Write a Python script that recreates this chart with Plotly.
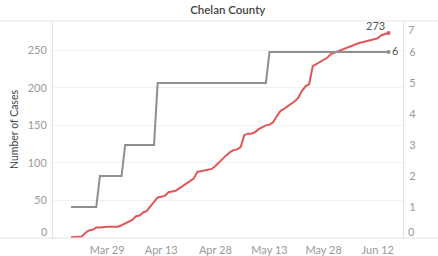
import plotly.graph_objects as go
import pandas as pd

title_text = "Chelan County"
start_date = "2020-03-19"
end_date = "2020-06-15"

cases = [
    1, 1, 2, 2, 7, 10, 11, 14, 14, 15, 15, 15, 15,          # Mar 19-31
    15, 17, 19, 21, 24, 29, 30, 34, 36, 42, 48, 54, 55, 56, 61,  # Apr 1-15
    62, 63, 66, 69, 72, 75, 79, 88, 89, 89, 90, 92, 96, 101, 106,  # Apr 16-30
    110, 114, 117, 118, 121, 137, 139, 139, 141, 145, 148, 150, 151, 154, 162,  # May 1-15
    169, 172, 175, 178, 182, 187, 196, 202, 205, 229, 232, 234, 237, 240, 245, 247,  # May 16-31
    249, 251, 252, 254, 256, 259, 260, 261, 262, 263, 265, 266, 270, 272, 273,  # Jun 1-15
]

deaths = [
    1, 1, 1, 1, 1, 1, 1, 1, 2, 2, 2, 2, 2,                    # Mar 19-31
    2, 2, 3, 3, 3, 3, 3, 3, 3, 3, 3, 5, 5, 5, 5,              # Apr 1-15
    5, 5, 5, 5, 5, 5, 5, 5, 5, 5, 5, 5, 5, 5, 5,              # Apr 16-30
    5, 5, 5, 5, 5, 5, 5, 5, 5, 5, 5, 5, 6, 6, 6,              # May 1-15
    6, 6, 6, 6, 6, 6, 6, 6, 6, 6, 6, 6, 6, 6, 6, 6,           # May 16-31
    6, 6, 6, 6, 6, 6, 6, 6, 6, 6, 6, 6, 6, 6, 6,              # Jun 1-15
]

x_tick_dates = ["2020-03-29", "2020-04-13", "2020-04-28", "2020-05-13", "2020-05-28", "2020-06-12"]
x_tick_labels = ["Mar 29", "Apr 13", "Apr 28", "May 13", "May 28", "Jun 12"]
left_ticks = [0, 50, 100, 150, 200, 250]
right_ticks = [0, 1, 2, 3, 4, 5, 6, 7]
left_range_max = 289
right_range_max = 7

dates = pd.date_range(start_date, end_date, freq="D")

RED = "#e15759"
GRAY = "#8f8f8f"
FONT = "Lato, 'Open Sans', sans-serif"
TICKC = "#9a9a9a"

# edge tick labels are nudged inward (as in the reference), the rest are normal tick labels
left_text = ["" if v == 0 else str(v) for v in left_ticks]
right_text = ["" if v in (0, right_range_max) else str(v) for v in right_ticks]

fig = go.Figure()
fig.add_trace(go.Scatter(x=dates, y=cases, mode="lines", line=dict(color=RED, width=2),
                         yaxis="y", showlegend=False, hoverinfo="skip"))
fig.add_trace(go.Scatter(x=dates, y=deaths, mode="lines", line=dict(color=GRAY, width=2),
                         yaxis="y2", showlegend=False, hoverinfo="skip"))
# end markers
fig.add_trace(go.Scatter(x=[dates[-1]], y=[cases[-1]], mode="markers",
                         marker=dict(color=RED, size=4), cliponaxis=False,
                         yaxis="y", showlegend=False, hoverinfo="skip"))
fig.add_trace(go.Scatter(x=[dates[-1]], y=[deaths[-1]], mode="markers+text",
                         marker=dict(color=GRAY, size=4), text=[str(deaths[-1])],
                         textposition="middle right", textfont=dict(size=11, color="#555", family=FONT),
                         cliponaxis=False,
                         yaxis="y2", showlegend=False, hoverinfo="skip"))

fig.add_annotation(x=dates[-1], y=cases[-1], xref="x", yref="y", text=str(cases[-1]),
                   showarrow=False, xanchor="right", yanchor="bottom", xshift=-2, yshift=-1,
                   font=dict(size=11, color="#555", family=FONT))

# nudged edge tick labels
fig.add_annotation(xref="paper", yref="y", x=0, y=0, text="0", showarrow=False,
                   xanchor="right", yanchor="middle", xshift=-3, yshift=7,
                   font=dict(size=11, color=TICKC, family=FONT))
fig.add_annotation(xref="paper", yref="y2", x=1, y=0, text="0", showarrow=False,
                   xanchor="left", yanchor="middle", xshift=3, yshift=7,
                   font=dict(size=11, color=TICKC, family=FONT))
fig.add_annotation(xref="paper", yref="y2", x=1, y=right_range_max, text=str(right_range_max),
                   showarrow=False, xanchor="left", yanchor="middle", xshift=3, yshift=-8,
                   font=dict(size=11, color=TICKC, family=FONT))

fig.update_layout(
    width=438, height=256,
    margin=dict(l=53, r=35, t=21, b=18),
    paper_bgcolor="white", plot_bgcolor="white",
    font=dict(family=FONT, size=11, color=TICKC),
    title=dict(text=title_text, x=0.52, xanchor="center", y=0.962, yanchor="middle",
               font=dict(size=11.5, color="#444", family=FONT, weight=600)),
    xaxis=dict(
        type="date", range=["2020-03-14", "2020-06-19"], automargin=False,
        tickvals=x_tick_dates, ticktext=x_tick_labels,
        showgrid=False, zeroline=False, showline=False,
        ticks="outside", ticklen=2, tickcolor="rgba(0,0,0,0)",
        tickfont=dict(size=11, color=TICKC),
    ),
    yaxis=dict(
        range=[0, left_range_max], tickvals=left_ticks, ticktext=left_text,
        showgrid=True, gridcolor="#f1f1f1",
        zeroline=False, showline=True, linecolor="#e2e2e2", linewidth=1, automargin=False,
        ticks="outside", ticklen=3, tickcolor="rgba(0,0,0,0)",
        tickfont=dict(size=11, color=TICKC),
        title=dict(text="Number of Cases", font=dict(size=10.5, color="#444"), standoff=6),
    ),
    yaxis2=dict(
        range=[0, right_range_max], tickvals=right_ticks, ticktext=right_text,
        overlaying="y", side="right",
        showgrid=False, zeroline=False, showline=True, linecolor="#e2e2e2", linewidth=1,
        automargin=False,
        ticks="outside", ticklen=3, tickcolor="rgba(0,0,0,0)",
        tickfont=dict(size=11, color=TICKC),
    ),
    shapes=[
        dict(type="line", xref="paper", yref="paper", x0=-0.16, x1=1.12, y0=1, y1=1,
             line=dict(color="#e6e6e6", width=1)),
        dict(type="line", xref="paper", yref="paper", x0=-0.16, x1=1.12, y0=0, y1=0,
             line=dict(color="#e2e2e2", width=1)),
    ],
)

fig.write_html("out.html", config={"displayModeBar": False},
               post_script="document.body.style.margin='0';")
